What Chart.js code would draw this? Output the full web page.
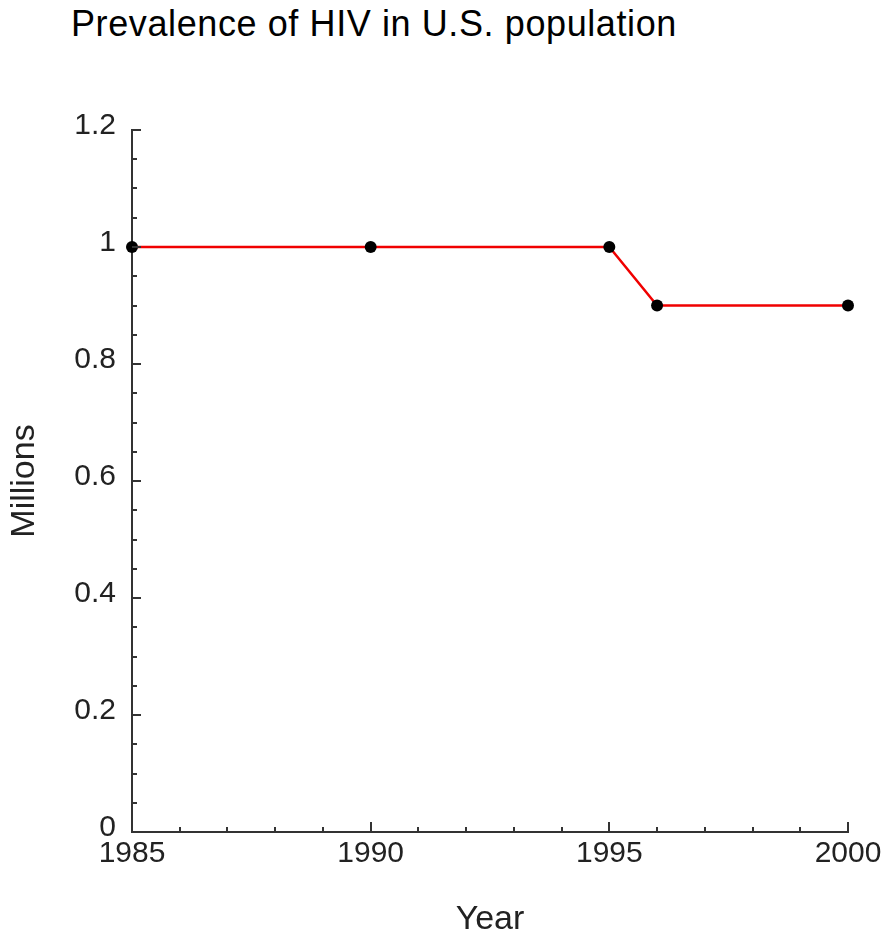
<!DOCTYPE html>
<html lang="en">
    <head>
        <meta charset="UTF-8">
        <title>Prevalence of HIV in U.S. population</title>
        <script src="https://cdn.jsdelivr.net/npm/chart.js"></script>
        <style>
            body {
                margin: 0;
                background: #ffffff;
                font-family: "Liberation Sans", Arial, sans-serif;
            }
            .wrap {
                position: relative;
                width: 882px;
                height: 937px;
            }
            .title {
                position: absolute;
                left: 71px;
                top: 6px;
                font-size: 36px;
                line-height: 1;
                letter-spacing: 0.6px;
                color: #000;
                white-space: nowrap;
            }
            canvas {
                position: absolute;
                left: 0;
                top: 0;
            }
        </style>
    </head>
    <body>
        <div class="wrap">
            <div class="title">Prevalence of HIV in U.S. population</div>
            <canvas id="chart" width="882" height="937"></canvas>
        </div>
        <script>
            // data
            const years = [1985, 1990, 1995, 1996, 2000];
            const millions = [1, 1, 1, 0.9, 0.9];

            const xTicks = [1985, 1990, 1995, 2000];
            const yTicks = [0, 0.2, 0.4, 0.6, 0.8, 1, 1.2];

            const axisColor = '#333333';
            const fontFamily = '"Liberation Sans", Arial, sans-serif';

            // ticks point into the plot, like the original
            const inwardTicks = {
                id: 'inwardTicks',
                afterDatasetsDraw(chart) {
                    const ctx = chart.ctx;
                    const x = chart.scales.x;
                    const y = chart.scales.y;
                    const area = chart.chartArea;
                    ctx.save();
                    ctx.strokeStyle = axisColor;
                    ctx.lineWidth = 2;
                    ctx.beginPath();
                    for (let v = x.min; v <= x.max; v++) {
                        const px = Math.round(x.getPixelForValue(v));
                        const len = (v % 5 === 0) ? 10 : 5;
                        ctx.moveTo(px, area.bottom);
                        ctx.lineTo(px, area.bottom - len);
                    }
                    for (let i = 0; i <= 24; i++) {
                        const v = i * 0.05;
                        const py = Math.round(y.getPixelForValue(v));
                        const len = (i % 4 === 0) ? 9 : 5;
                        ctx.moveTo(area.left, py);
                        ctx.lineTo(area.left + len, py);
                    }
                    ctx.stroke();
                    ctx.restore();
                }
            };

            const ctx = document.getElementById('chart').getContext('2d');
            new Chart(ctx, {
                type: 'line',
                data: {
                    datasets: [{
                        label: 'Prevalence',
                        data: years.map((yr, i) => ({ x: yr, y: millions[i] })),
                        borderColor: 'rgb(240, 0, 0)',
                        borderWidth: 2.5,
                        tension: 0,
                        pointRadius: 6,
                        pointBackgroundColor: '#000000',
                        pointBorderColor: '#000000',
                        pointBorderWidth: 0,
                        clip: false
                    }]
                },
                options: {
                    responsive: false,
                    animation: false,
                    layout: {
                        padding: { left: 0, right: 34, top: 130, bottom: 0 }
                    },
                    plugins: {
                        legend: { display: false },
                        tooltip: { enabled: false }
                    },
                    scales: {
                        x: {
                            type: 'linear',
                            min: 1985,
                            max: 2000,
                            afterBuildTicks: scale => {
                                scale.ticks = xTicks.map(v => ({ value: v }));
                            },
                            afterFit: scale => {
                                scale.height = 105;
                                scale.paddingLeft = 0;
                                scale.paddingRight = 0;
                            },
                            border: { display: true, color: axisColor, width: 2 },
                            grid: { display: false, drawTicks: false },
                            ticks: {
                                color: '#222222',
                                padding: 4,
                                maxRotation: 0,
                                font: { family: fontFamily, size: 30 },
                                callback: v => String(v)
                            },
                            title: {
                                display: true,
                                text: 'Year',
                                color: '#222222',
                                padding: { top: 0, bottom: 0 },
                                font: { family: fontFamily, size: 34, lineHeight: 1 }
                            }
                        },
                        y: {
                            min: 0,
                            max: 1.2,
                            afterBuildTicks: scale => {
                                scale.ticks = yTicks.map(v => ({ value: v }));
                            },
                            afterFit: scale => {
                                scale.width = 132;
                            },
                            border: { display: true, color: axisColor, width: 2 },
                            grid: { display: false, drawTicks: false },
                            ticks: {
                                color: '#222222',
                                padding: 16,
                                labelOffset: -4,
                                font: { family: fontFamily, size: 30 },
                                callback: v => String(Math.round(v * 10) / 10)
                            },
                            title: {
                                display: true,
                                text: 'Millions',
                                color: '#222222',
                                padding: { top: 8, bottom: 0 },
                                font: { family: fontFamily, size: 34, lineHeight: 1 }
                            }
                        }
                    }
                },
                plugins: [inwardTicks]
            });
        </script>
    </body>
</html>
